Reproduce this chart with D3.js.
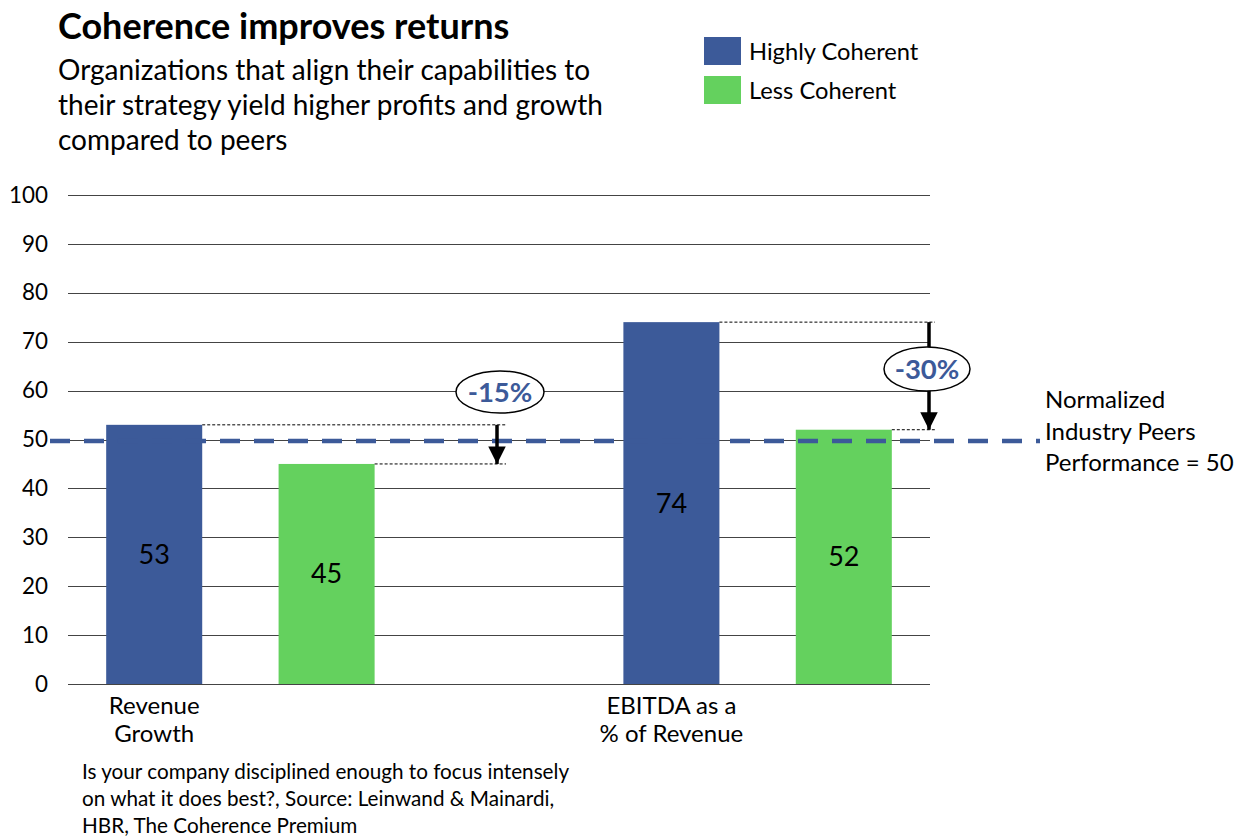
<!DOCTYPE html>
<html>
<head>
<meta charset="utf-8">
<script src="https://cdn.jsdelivr.net/npm/d3@7"></script>
<style>
  body { margin: 0; background: #fff; }
  svg { display: block; font-family: Lato, "Open Sans", sans-serif; }
</style>
</head>
<body>
<svg id="chart"></svg>
<script>
(function () {
    'use strict';

    const width = 1236;
    const height = 837;

    // data
    const categories = ['Revenue Growth', 'EBITDA as a % of Revenue'];
    const categoryLines = [['Revenue', 'Growth'], ['EBITDA as a', '% of Revenue']];
    const seriesNames = ['Highly Coherent', 'Less Coherent'];
    const highly = [53, 74];
    const less = [45, 52];
    const gaps = ['-15%', '-30%'];
    const peerValue = 50;
    const yTicks = [0, 10, 20, 30, 40, 50, 60, 70, 80, 90, 100];

    const colors = { 'Highly Coherent': '#3c5a99', 'Less Coherent': '#64d15e' };

    const margin = ({ top: 195, right: 306, bottom: 153, left: 68 });

    // five slots: two bars per category and an empty slot between them
    const slots = ['0-h', '0-l', 'gap', '1-h', '1-l'];

    const x = d3.scaleBand()
        .domain(slots)
        .range([margin.left, width - margin.right])
        .paddingInner(0.443)
        .paddingOuter(0.2215);

    const y = d3.scaleLinear()
        .domain([0, 100])
        .range([height - margin.bottom, margin.top]);

    const bars = [];
    categories.forEach((c, i) => {
        bars.push({ slot: i + '-h', series: seriesNames[0], value: highly[i] });
        bars.push({ slot: i + '-l', series: seriesNames[1], value: less[i] });
    });

    const svg = d3.select('#chart')
        .attr('width', width)
        .attr('height', height)
        .attr('viewBox', [0, 0, width, height]);

    // title block
    svg.append('text')
        .attr('x', 58).attr('y', 39)
        .attr('font-size', 36).attr('font-weight', 'bold')
        .text('Coherence improves returns');

    const sub = ['Organizations that align their capabilities to',
        'their strategy yield higher profits and growth',
        'compared to peers'];
    svg.append('g').selectAll('text').data(sub).join('text')
        .attr('x', 58).attr('y', (d, i) => 80 + i * 35)
        .attr('font-size', 28)
        .text(d => d);

    // legend
    const legend = svg.append('g').attr('transform', 'translate(704,37)');
    const li = legend.selectAll('g').data(seriesNames).join('g')
        .attr('transform', (d, i) => `translate(0,${i * 39})`);
    li.append('rect').attr('width', 37).attr('height', 28).attr('fill', d => colors[d]);
    li.append('text').attr('x', 45).attr('y', 23).attr('font-size', 23.7).text(d => d);

    // y axis with gridlines
    const yAxis = g => g
        .attr('transform', `translate(${margin.left},0)`)
        .call(d3.axisLeft(y).tickValues(yTicks).tickSize(-(width - margin.right - margin.left)).tickPadding(20))
        .call(g => g.select('.domain').remove())
        .call(g => g.selectAll('.tick line').attr('stroke', '#444').attr('shape-rendering', 'crispEdges'))
        .call(g => g.selectAll('.tick text').attr('font-size', 22.4).attr('fill', '#000')
            .attr('font-family', 'Lato, sans-serif'));

    svg.append('g').call(yAxis);

    // bars
    svg.append('g').selectAll('rect').data(bars).join('rect')
        .attr('x', d => x(d.slot))
        .attr('y', d => y(d.value))
        .attr('width', x.bandwidth())
        .attr('height', d => y(0) - y(d.value))
        .attr('fill', d => colors[d.series]);

    // value labels in the middle of each bar
    svg.append('g').selectAll('text').data(bars).join('text')
        .attr('x', d => x(d.slot) + x.bandwidth() / 2)
        .attr('y', d => y(d.value / 2))
        .attr('dy', '0.35em')
        .attr('text-anchor', 'middle')
        .attr('font-size', 27)
        .text(d => d.value);

    // category labels under the first bar of each group
    const cat = svg.append('g').selectAll('text').data(categoryLines).join('text')
        .attr('text-anchor', 'middle')
        .attr('font-size', 24)
        .attr('transform', (d, i) => `translate(${x(i + '-h') + x.bandwidth() / 2},714)`);
    cat.selectAll('tspan').data(d => d).join('tspan')
        .attr('x', 0).attr('y', (d, i) => i * 28)
        .text(d => d);

    // peers dashed line
    svg.append('line')
        .attr('x1', 50).attr('x2', 1040)
        .attr('y1', y(peerValue) + 1.5).attr('y2', y(peerValue) + 1.5)
        .attr('stroke', '#3c5a99').attr('stroke-width', 4.5)
        .attr('stroke-dasharray', '20,14');

    svg.append('g').selectAll('text')
        .data(['Normalized', 'Industry Peers', 'Performance = 50']).join('text')
        .attr('x', 1045).attr('y', (d, i) => 408 + i * 31.5)
        .attr('font-size', 24)
        .text(d => d);

    // gap annotations
    svg.append('defs').append('marker')
        .attr('id', 'head')
        .attr('viewBox', '0 0 10 10')
        .attr('refX', 10).attr('refY', 5)
        .attr('markerWidth', 5).attr('markerHeight', 5)
        .attr('markerUnits', 'strokeWidth')
        .attr('orient', 'auto')
        .append('path').attr('d', 'M0,0L10,5L0,10z').attr('fill', '#000');

    const ann = [
        { i: 0, ax: 497, end: 506, ex: 500, ey: 392, rx: 44, ry: 21 },
        { i: 1, ax: 929, end: 935, ex: 927, ey: 369, rx: 43, ry: 22 }
    ];

    ann.forEach(a => {
        const g = svg.append('g');
        const hx = x(a.i + '-h') + x.bandwidth();
        const lx = x(a.i + '-l') + x.bandwidth();
        g.append('line')
            .attr('x1', hx).attr('x2', a.end)
            .attr('y1', y(highly[a.i])).attr('y2', y(highly[a.i]))
            .attr('stroke', '#000').attr('stroke-width', 1).attr('stroke-dasharray', '3,2');
        g.append('line')
            .attr('x1', lx).attr('x2', a.end)
            .attr('y1', y(less[a.i])).attr('y2', y(less[a.i]))
            .attr('stroke', '#000').attr('stroke-width', 1).attr('stroke-dasharray', '3,2');
        g.append('line')
            .attr('x1', a.ax).attr('x2', a.ax)
            .attr('y1', y(highly[a.i])).attr('y2', y(less[a.i]))
            .attr('stroke', '#000').attr('stroke-width', 3.5)
            .attr('marker-end', 'url(#head)');
        g.append('ellipse')
            .attr('cx', a.ex).attr('cy', a.ey).attr('rx', a.rx).attr('ry', a.ry)
            .attr('fill', '#fff').attr('stroke', '#000').attr('stroke-width', 1.5);
        g.append('text')
            .attr('x', a.ex).attr('y', a.ey).attr('dy', '0.36em')
            .attr('text-anchor', 'middle')
            .attr('font-size', 27.5).attr('font-weight', 'bold')
            .attr('fill', '#3c5a99')
            .text(gaps[a.i]);
    });

    // footer
    svg.append('g').selectAll('text')
        .data(['Is your company disciplined enough to focus intensely',
            'on what it does best?, Source: Leinwand & Mainardi,',
            'HBR, The Coherence Premium']).join('text')
        .attr('x', 82).attr('y', (d, i) => 779 + i * 27)
        .attr('font-size', 20.7)
        .text(d => d);
})();
</script>
</body>
</html>
